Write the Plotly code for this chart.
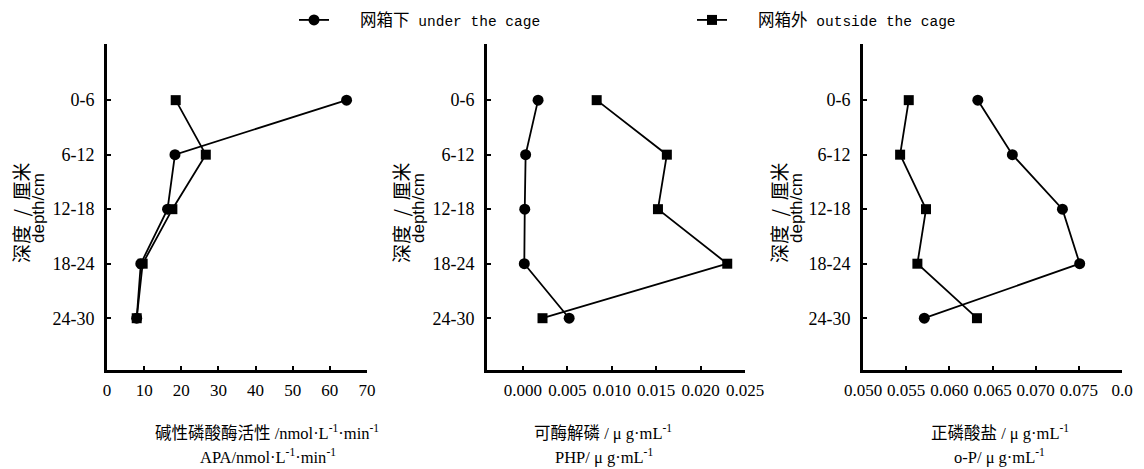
import plotly.graph_objects as go

# Depth intervals (cm), top to bottom
depths = ["0-6", "6-12", "12-18", "18-24", "24-30"]

# Alkaline phosphatase activity, APA (nmol·L-1·min-1)
apa_under = [64.5, 18.3, 16.3, 9.1, 8.0]
apa_outside = [18.5, 26.6, 17.6, 9.6, 8.0]

# Phosphohydrolysable phosphorus, PHP (μg·mL-1)
php_under = [0.0017, 0.0003, 0.0002, 0.00015, 0.0052]
php_outside = [0.0083, 0.0162, 0.0152, 0.0230, 0.0022]

# Orthophosphate, o-P (μg·mL-1)
op_under = [0.0633, 0.0673, 0.0731, 0.0751, 0.0571]
op_outside = [0.0553, 0.0543, 0.0573, 0.0563, 0.0632]

# Tick labels
apa_ticks = [0, 10, 20, 30, 40, 50, 60, 70]
php_ticks = [0.000, 0.005, 0.010, 0.015, 0.020, 0.025]
php_ticktext = ["0.000", "0.005", "0.010", "0.015", "0.020", "0.025"]
op_ticks = [0.050, 0.055, 0.060, 0.065, 0.070, 0.075, 0.080]
op_ticktext = ["0.050", "0.055", "0.060", "0.065", "0.070", "0.075", "0.0"]

NB = "\u00a0"
name_under = NB * 3 + "<span style='font-size:16.5px'>网箱下</span>" + NB + "under the cage"
name_outside = NB * 3 + "<span style='font-size:16.5px'>网箱外</span>" + NB + "outside the cage"

W, H = 1144, 469
SERIF = "Liberation Serif, Noto Sans CJK SC"

fig = go.Figure()

panels = [
    ("x", "y", apa_under, apa_outside),
    ("x2", "y2", php_under, php_outside),
    ("x3", "y3", op_under, op_outside),
]
for i, (xa, ya, under, outside) in enumerate(panels):
    fig.add_trace(go.Scatter(
        x=under, y=depths, xaxis=xa, yaxis=ya, mode="lines+markers",
        name=name_under, legendgroup="under", showlegend=(i == 0),
        line=dict(color="black", width=1.8),
        marker=dict(symbol="circle", size=11, color="black"),
    ))
    fig.add_trace(go.Scatter(
        x=outside, y=depths, xaxis=xa, yaxis=ya, mode="lines+markers",
        name=name_outside, legendgroup="outside", showlegend=(i == 0),
        line=dict(color="black", width=1.8),
        marker=dict(symbol="square", size=10, color="black"),
    ))

# pixel extents of each panel
x_dom_px = [(107, 367), (487, 745), (863, 1122)]
y_top, y_bot = 44, 370
ydom = [1 - y_bot / H, 1 - y_top / H]

axis_common = dict(
    showline=True, linecolor="black", linewidth=2.6, mirror=False,
    ticks="inside", ticklen=4, tickwidth=2, tickcolor="black",
    showgrid=False, zeroline=False, automargin=False,
)

xcfg = [
    dict(range=[0, 70], tickvals=apa_ticks, ticktext=[str(v) for v in apa_ticks]),
    dict(range=[-0.00405, 0.025], tickvals=php_ticks, ticktext=php_ticktext),
    dict(range=[0.050, 0.080], tickvals=op_ticks, ticktext=op_ticktext),
]
for i in range(3):
    key = "xaxis" if i == 0 else f"xaxis{i + 1}"
    ykey = "yaxis" if i == 0 else f"yaxis{i + 1}"
    a, b = x_dom_px[i]
    fig.layout[key] = dict(
        domain=[a / W, b / W], anchor="y" if i == 0 else f"y{i + 1}",
        ticklabelstandoff=3, tickfont=dict(family=SERIF, size=17, color="black"),
        **xcfg[i], **axis_common,
    )
    fig.layout[ykey] = dict(
        domain=ydom, anchor="x" if i == 0 else f"x{i + 1}",
        type="category", categoryorder="array", categoryarray=depths,
        range=[4.95, -1.03], ticklabelstandoff=6,
        tickfont=dict(family=SERIF, size=18, color="black"),
        **axis_common,
    )

annotations = []
# y-axis titles (two lines, rotated)
ytitle_x = [(20, 38), (400, 418), (778, 796)]
for x1, x2 in ytitle_x:
    annotations.append(dict(
        text="深度" + NB * 2 + "/" + NB * 2 + "厘米", x=x1 / W, y=1 - 213 / H,
        xref="paper", yref="paper",
        showarrow=False, textangle=-90, xanchor="center", yanchor="middle",
        font=dict(family="Noto Sans CJK SC", size=19, color="black"),
    ))
    annotations.append(dict(
        text="depth/cm", x=x2 / W, y=1 - 208 / H, xref="paper", yref="paper",
        showarrow=False, textangle=-90, xanchor="center", yanchor="middle",
        font=dict(family="Liberation Sans", size=17, color="black"),
    ))

# x-axis titles (two lines)
xtitles = [
    (267, "碱性磷酸酶活性 /nmol·L<sup>-1</sup>·min<sup>-1</sup>",
     268, "APA/nmol·L<sup>-1</sup>·min<sup>-1</sup>"),
    (603, "可酶解磷 / μ g·mL<sup>-1</sup>", 604, "PHP/ μ g·mL<sup>-1</sup>"),
    (1000, "正磷酸盐 / μ g·mL<sup>-1</sup>", 999, "o-P/ μ g·mL<sup>-1</sup>"),
]
for xa, ta, xb, tb in xtitles:
    annotations.append(dict(
        text=ta, x=xa / W, y=1 - 432 / H, xref="paper", yref="paper",
        showarrow=False, xanchor="center", yanchor="middle",
        font=dict(family=SERIF, size=16.5, color="black"),
    ))
    annotations.append(dict(
        text=tb, x=xb / W, y=1 - 456 / H, xref="paper", yref="paper",
        showarrow=False, xanchor="center", yanchor="middle",
        font=dict(family=SERIF, size=16.5, color="black"),
    ))

fig.update_layout(
    width=W, height=H,
    margin=dict(l=0, r=0, t=0, b=0),
    paper_bgcolor="white", plot_bgcolor="white",
    annotations=annotations,
    legend=dict(
        orientation="h", x=294 / W, y=1 - 4 / H, xanchor="left", yanchor="top",
        entrywidth=353, entrywidthmode="pixels",
        font=dict(family="Liberation Mono, Noto Sans CJK SC", size=14.5, color="black"),
        bgcolor="rgba(0,0,0,0)", borderwidth=0, itemclick=False,
    ),
)

fig.write_html("out.html")
